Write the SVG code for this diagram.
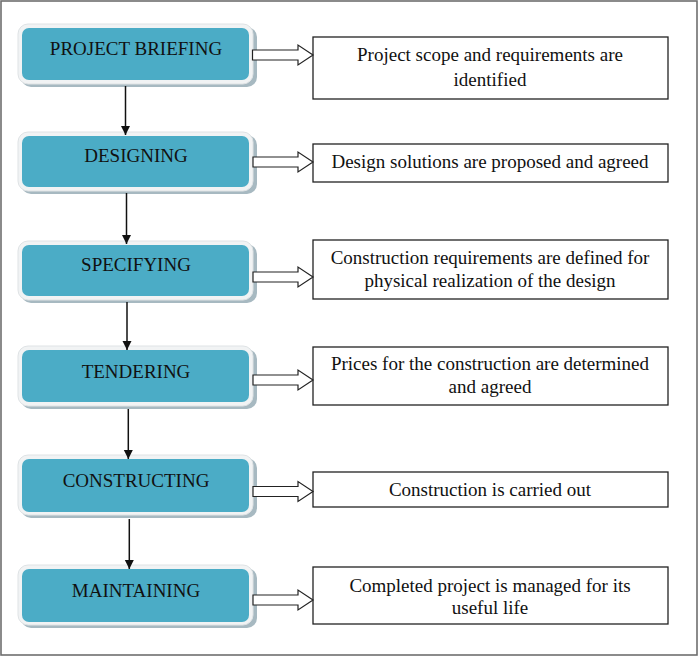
<svg xmlns="http://www.w3.org/2000/svg" width="700" height="657" viewBox="0 0 700 657">
<defs>
<style>
.shadow{fill:#a7b9c1;}
.halo{fill:#f1f3f4;stroke:#dfe3e5;stroke-width:1;}
.core{fill:#4bacc6;}
.ntext{font-family:"Liberation Serif","Times New Roman",serif;font-size:19px;fill:#111;text-anchor:middle;}
.box{fill:#fff;stroke:#222;stroke-width:1.3;}
.btext{font-family:"Liberation Serif","Times New Roman",serif;font-size:19px;fill:#111;text-anchor:middle;}
.flow{stroke:#111;stroke-width:1.5;fill:none;}
.block{fill:#fff;stroke:#222;stroke-width:1.2;stroke-linejoin:miter;}
</style>
<marker id="ah" markerWidth="10" markerHeight="10" refX="9" refY="5" orient="auto" markerUnits="userSpaceOnUse">
<path d="M0,0.5 L9,5 L0,9.5 Z" fill="#111"/>
</marker>
</defs>
<rect x="1" y="1" width="696" height="654" fill="#fff" stroke="#6e6e6e" stroke-width="1.6"/>

<g id="n1">
<rect class="shadow" x="21" y="27" width="236" height="60" rx="10"/>
<rect class="halo" x="18" y="24" width="235" height="60" rx="10"/>
<rect class="core" x="22" y="28" width="227" height="52" rx="7"/>
<text class="ntext" x="136" y="55">PROJECT BRIEFING</text>
</g>
<g id="n2">
<rect class="shadow" x="21" y="135" width="236" height="59" rx="10"/>
<rect class="halo" x="18" y="132" width="235" height="59" rx="10"/>
<rect class="core" x="22" y="136" width="227" height="51" rx="7"/>
<text class="ntext" x="136" y="162">DESIGNING</text>
</g>
<g id="n3">
<rect class="shadow" x="21" y="244" width="236" height="59" rx="10"/>
<rect class="halo" x="18" y="241" width="235" height="59" rx="10"/>
<rect class="core" x="22" y="245" width="227" height="51" rx="7"/>
<text class="ntext" x="136" y="271">SPECIFYING</text>
</g>
<g id="n4">
<rect class="shadow" x="21" y="349" width="236" height="60" rx="10"/>
<rect class="halo" x="18" y="346" width="235" height="60" rx="10"/>
<rect class="core" x="22" y="350" width="227" height="52" rx="7"/>
<text class="ntext" x="136" y="377.5">TENDERING</text>
</g>
<g id="n5">
<rect class="shadow" x="21" y="458" width="236" height="60" rx="10"/>
<rect class="halo" x="18" y="455" width="235" height="60" rx="10"/>
<rect class="core" x="22" y="459" width="227" height="53" rx="7"/>
<text class="ntext" x="136" y="487">CONSTRUCTING</text>
</g>
<g id="n6">
<rect class="shadow" x="21" y="568" width="236" height="60" rx="10"/>
<rect class="halo" x="18" y="565" width="235" height="60" rx="10"/>
<rect class="core" x="22" y="569" width="227" height="53" rx="7"/>
<text class="ntext" x="136" y="597">MAINTAINING</text>
</g>

<g id="d1">
<rect class="box" x="313" y="37" width="355" height="62"/>
<text class="btext" x="490" y="61">Project scope and requirements are</text>
<text class="btext" x="490" y="85.5">identified</text>
</g>
<g id="d2">
<rect class="box" x="313" y="144" width="355" height="38"/>
<text class="btext" x="490" y="168">Design solutions are proposed and agreed</text>
</g>
<g id="d3">
<rect class="box" x="313" y="240" width="355" height="59"/>
<text class="btext" x="490" y="263.5">Construction requirements are defined for</text>
<text class="btext" x="490" y="286.5">physical realization of the design</text>
</g>
<g id="d4">
<rect class="box" x="313" y="347" width="355" height="58"/>
<text class="btext" x="490" y="370">Prices for the construction are determined</text>
<text class="btext" x="490" y="393">and agreed</text>
</g>
<g id="d5">
<rect class="box" x="313" y="472" width="355" height="35"/>
<text class="btext" x="490" y="496">Construction is carried out</text>
</g>
<g id="d6">
<rect class="box" x="313" y="567" width="355" height="57"/>
<text class="btext" x="490" y="591.5">Completed project is managed for its</text>
<text class="btext" x="490" y="613.5">useful life</text>
</g>

<g id="connectors">
<line class="flow" x1="125.5" y1="86" x2="125.5" y2="135" marker-end="url(#ah)"/>
<line class="flow" x1="126.5" y1="193" x2="126.5" y2="244" marker-end="url(#ah)"/>
<line class="flow" x1="127" y1="302" x2="127" y2="350" marker-end="url(#ah)"/>
<line class="flow" x1="128.3" y1="409" x2="128.3" y2="459" marker-end="url(#ah)"/>
<line class="flow" x1="129.3" y1="519" x2="129.3" y2="569" marker-end="url(#ah)"/>

<path class="block" d="M252.5,50 L298,50 L298,45 L313,55 L298,65 L298,60 L252.5,60 Z"/>
<path class="block" d="M253,157 L298,157 L298,152 L313,162 L298,172 L298,167 L253,167 Z"/>
<path class="block" d="M253,272 L298,272 L298,267 L313,277 L298,287 L298,282 L253,282 Z"/>
<path class="block" d="M253,375 L298,375 L298,370 L313,380 L298,390 L298,385 L253,385 Z"/>
<path class="block" d="M253,486.5 L298,486.5 L298,481.5 L313,491.5 L298,501.5 L298,496.5 L253,496.5 Z"/>
<path class="block" d="M253,595 L298,595 L298,590 L313,600 L298,610 L298,605 L253,605 Z"/>
</g>
</svg>
